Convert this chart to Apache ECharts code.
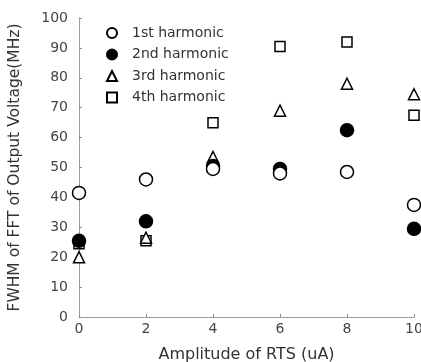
<!DOCTYPE html>
<html><head><meta charset="utf-8">
<script src="https://cdn.jsdelivr.net/npm/echarts@6/dist/echarts.min.js"></script>
<style>html,body{margin:0;padding:0;background:#fff}#c{width:421px;height:362px}</style>
</head><body><div id="c"></div>
<script>
const xValues = [0, 2, 4, 6, 8, 10];
const first  = [41.5, 46, 49.5, 48, 48.5, 37.5];
const second = [25.5, 32, 50.5, 49.5, 62.5, 29.5];
const third  = [20, 26.5, 53.5, 69, 78, 74.5];
const fourth = [24.5, 25.5, 65, 90.5, 92, 67.5];
const names = ['1st harmonic', '2nd harmonic', '3rd harmonic', '4th harmonic'];

const pairs = arr => xValues.map((x, i) => [x, arr[i]]);
const chart = echarts.init(document.getElementById('c'), null, {renderer: 'canvas'});
const font = '"DejaVu Sans", Verdana, sans-serif';
const axisLine = {show: true, lineStyle: {color: '#888', type: 'dotted', width: 1}};
function series(name, data, symbol, size, filled) {
  return {
    name, type: 'scatter', data: pairs(data), symbol, symbolSize: size,
    itemStyle: {color: filled ? '#000' : '#fff', borderColor: '#000', borderWidth: 1.5, opacity: 1}
  };
}
chart.setOption({
  animation: false,
  backgroundColor: '#fff',
  grid: {left: 79, right: 7, top: 18, bottom: 45, containLabel: false, outerBoundsMode: 'none'},
  legend: {
    orient: 'vertical', left: 101, top: 21, itemGap: 7.5, itemWidth: 10, itemHeight: 10,
    data: names,
    textStyle: {fontFamily: font, fontSize: 14, color: '#333', padding: [0, 0, 0, 10]}
  },
  xAxis: {
    type: 'value', min: 0, max: 10, interval: 2,
    name: 'Amplitude of RTS (uA)', nameLocation: 'middle', nameGap: 30,
    nameTextStyle: {fontFamily: font, fontSize: 16, color: '#333'},
    axisLine, splitLine: {show: false},
    axisTick: {show: true, inside: true, length: 3, lineStyle: {color: '#888'}},
    axisLabel: {fontFamily: font, fontSize: 14, color: '#444', margin: 5}
  },
  yAxis: {
    type: 'value', min: 0, max: 100, interval: 10,
    name: 'FWHM of FFT of Output Voltage(MHz)', nameLocation: 'middle', nameGap: 56,
    nameTextStyle: {fontFamily: font, fontSize: 15.5, color: '#333'},
    axisLine, splitLine: {show: false},
    axisTick: {show: true, inside: true, length: 3, lineStyle: {color: '#888'}},
    axisLabel: {fontFamily: font, fontSize: 14, color: '#444', margin: 11}
  },
  series: [
    series(names[3], fourth, 'rect', 10, false),
    series(names[2], third, 'triangle', 11, false),
    series(names[1], second, 'circle', 13, true),
    series(names[0], first, 'circle', 13, false)
  ]
});
</script></body></html>
